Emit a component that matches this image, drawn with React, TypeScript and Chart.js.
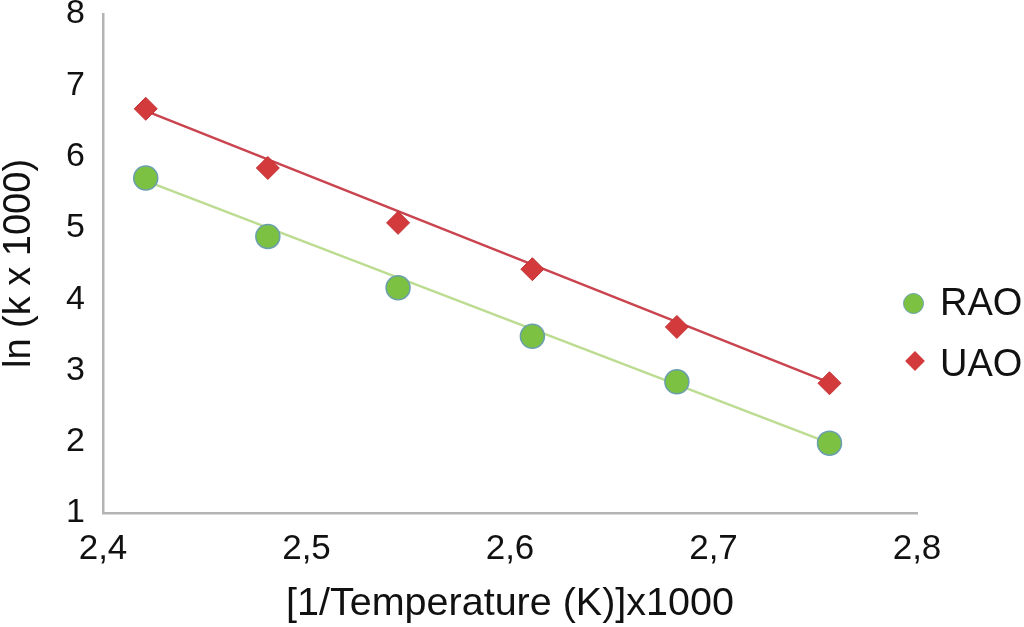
import { useEffect, useRef } from 'react'
import { Chart, registerables } from 'chart.js'

Chart.register(...registerables)

// 1/T x1000 values for the six measured temperatures
const INV_TEMP = [2.421, 2.481, 2.545, 2.611, 2.682, 2.757]
const RAO = [5.70, 4.88, 4.16, 3.48, 2.84, 1.98]
const UAO = [6.67, 5.84, 5.07, 4.42, 3.61, 2.82]

// linear trendline end points
const FIT_X = [2.421, 2.757]
const RAO_FIT = [5.66, 1.98]
const UAO_FIT = [6.64, 2.83]

const FONT = '"Liberation Sans", Arial, Helvetica, sans-serif'
const GREEN = '#7dc142'
const GREEN_EDGE = '#6a9fae'
const GREEN_LINE = '#bcdc92'
const RED = '#d23a3c'
const RED_LINE = '#c9444e'

const toPts = (xs: number[], ys: number[]) => xs.map((x, i) => ({ x, y: ys[i] }))
const comma = (v: number, d: number) => v.toFixed(d).replace('.', ',')

export default function App() {
  const canvasRef = useRef<HTMLCanvasElement>(null)

  useEffect(() => {
    document.body.style.margin = '0'
    if (!canvasRef.current) return
    const chart = new Chart(canvasRef.current, {
      type: 'scatter',
      data: {
        datasets: [
          {
            label: 'RAO',
            data: toPts(INV_TEMP, RAO),
            backgroundColor: GREEN,
            borderColor: GREEN_EDGE,
            borderWidth: 1.5,
            pointRadius: 12,
            pointStyle: 'circle',
            order: 0,
          },
          {
            label: 'UAO',
            data: toPts(INV_TEMP, UAO),
            backgroundColor: RED,
            borderColor: '#c23234',
            borderWidth: 1,
            pointRadius: 11.5,
            pointStyle: 'rectRot',
            order: 0,
          },
          {
            label: 'RAO fit',
            type: 'line',
            data: toPts(FIT_X, RAO_FIT),
            borderColor: GREEN_LINE,
            borderWidth: 2.5,
            pointRadius: 0,
            order: 1,
          },
          {
            label: 'UAO fit',
            type: 'line',
            data: toPts(FIT_X, UAO_FIT),
            borderColor: RED_LINE,
            borderWidth: 2.5,
            pointRadius: 0,
            order: 1,
          },
        ],
      },
      options: {
        responsive: true,
        maintainAspectRatio: false,
        animation: false,
        layout: { padding: { top: 14, right: 107, left: 0, bottom: 0 } },
        plugins: {
          legend: { display: false },
          tooltip: { enabled: false },
        },
        scales: {
          x: {
            type: 'linear',
            min: 2.4,
            max: 2.8,
            afterFit: (s) => { s.height = 114 },
            grid: { display: false, drawTicks: false, tickLength: 0 },
            border: { color: '#b4b4b4', width: 2.5 },
            ticks: {
              stepSize: 0.1,
              padding: 15,
              color: '#111',
              font: { family: FONT, size: 35 },
              callback: (v) => comma(Number(v), 1),
            },
            title: {
              display: true,
              text: '[1/Temperature (K)]x1000',
              color: '#111',
              font: { family: FONT, size: 39.5, lineHeight: 1 },
              padding: { top: 3, bottom: 3 },
            },
          },
          y: {
            min: 1,
            max: 8,
            afterFit: (s) => {
              s.width = 103
              s.paddingTop = 0
              s.paddingBottom = 0
            },
            grid: { display: false, drawTicks: false, tickLength: 0 },
            border: { color: '#b4b4b4', width: 2.5 },
            ticks: {
              stepSize: 1,
              padding: 18,
              color: '#111',
              font: { family: FONT, size: 34 },
              callback: (v) => String(v),
            },
            title: {
              display: true,
              text: 'ln (k x 1000)',
              color: '#111',
              font: { family: FONT, size: 38, lineHeight: 1 },
              padding: { top: 1, bottom: 1 },
            },
          },
        },
      },
    })
    return () => chart.destroy()
  }, [])

  const legendText: React.CSSProperties = {
    position: 'absolute',
    left: 940,
    fontFamily: FONT,
    fontSize: 38,
    color: '#111',
    lineHeight: '38px',
  }

  return (
    <div style={{ position: 'relative', width: 1024, height: 627, background: '#fff' }}>
      <canvas ref={canvasRef} />
      {/* legend */}
      <div style={{ position: 'absolute', left: 903, top: 293, width: 21, height: 21, borderRadius: '50%', background: GREEN, boxSizing: 'border-box', border: `1.5px solid ${GREEN_EDGE}` }} />
      <div style={{ ...legendText, top: 283 }}>RAO</div>
      <div style={{ position: 'absolute', left: 908, top: 354, width: 14, height: 14, background: RED, transform: 'rotate(45deg)' }} />
      <div style={{ ...legendText, top: 344 }}>UAO</div>
    </div>
  )
}
